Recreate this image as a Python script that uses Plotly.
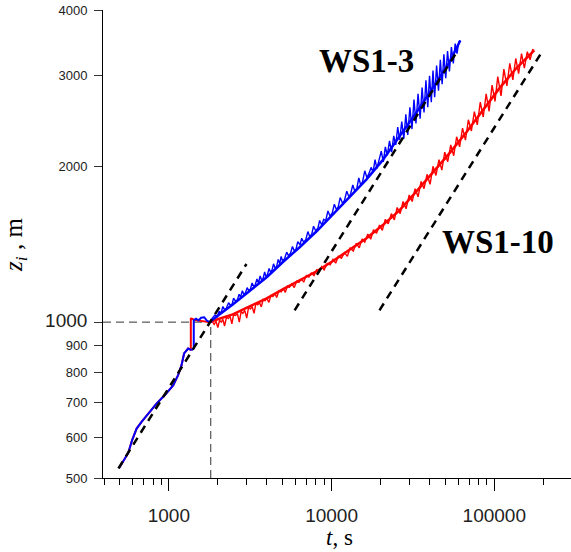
import math
import plotly.graph_objects as go

# ---------------- data ----------------
# early growth (shared) and jump
early_t = [494, 524, 563, 595, 634, 680, 747, 840, 945, 1063, 1140, 1197, 1241, 1314, 1378]
early_z = [522, 537, 559, 592, 623, 642, 666, 696, 723, 755, 790, 826, 870, 889, 883]

blue_jump_t = [1378, 1423, 1423, 1470, 1520, 1580, 1650, 1720, 1800]
blue_jump_z = [883, 890, 1008, 1015, 1008, 1020, 1022, 1005, 1000]

red_jump_t = [1314, 1365, 1365, 1380, 1450, 1600, 1800]
red_jump_z = [889, 886, 1015, 1016, 1009, 1005, 1000]

# WS1-3 smooth (fitted) curve
blue_fit_t = [1800, 1836, 2470, 3140, 3993, 5006, 6364, 8092, 10141, 12895, 16397,
              20556, 26138, 33233, 41655, 52962, 61850]
blue_fit_z = [1000, 1008, 1082, 1147, 1221, 1305, 1395, 1498, 1615, 1742, 1887,
              2053, 2285, 2542, 2828, 3175, 3500]

# WS1-3 noisy signal
blue_noise_t = [1800, 1850, 1920, 1980, 2040, 2090, 2150, 2210, 2260, 2330, 2390, 2450,
                2500, 2570, 2640, 2700, 2760, 2830, 2900, 2960, 3030, 3100, 3170,
                3250, 3330, 3400, 3480, 3560, 3640, 3720, 3800, 3880, 3950,
                4040, 4130, 4220, 4310, 4400, 4500, 4600, 4700, 4800, 4900, 5000,
                5150, 5300, 5450, 5600, 5750, 5900, 6050, 6200,
                6400, 6550, 6750, 6950, 7150, 7350, 7550, 7750, 8000,
                8250, 8450, 8700, 8950, 9200, 9500, 9800, 10100,
                10400, 10700, 11000, 11300, 11700, 12000, 12400, 12800,
                13100, 13500, 13900, 14300, 14700, 15100, 15500, 16000,
                16500, 17000, 17500, 18000, 18500, 19000, 19600, 20200,
                20800, 21400, 22000, 22700, 23400, 24100, 24800, 25500, 26200,
                27000, 27800, 28600, 29400, 30300, 31200, 32100, 33000,
                34000, 35000, 36000, 37000, 38000, 39000, 40000, 41000,
                42000, 43000, 44200, 45400, 46600, 47800, 49000, 50300, 51600, 53000,
                54500, 56000, 57500, 59000, 60500, 61850]
blue_noise_z = [1000, 1018, 1032, 1024, 1050, 1040, 1072, 1055, 1066, 1090, 1078, 1084,
                1112, 1098, 1104, 1132, 1118, 1150, 1128, 1140, 1166, 1150, 1158,
                1190, 1170, 1182, 1212, 1190, 1228, 1205, 1216, 1250, 1224,
                1236, 1270, 1248, 1262, 1296, 1270, 1282, 1322, 1296, 1340, 1312,
                1328, 1365, 1342, 1360, 1400, 1372, 1385, 1430,
                1410, 1452, 1426, 1444, 1496, 1462, 1478, 1532, 1500,
                1520, 1572, 1540, 1580, 1570, 1640, 1602, 1625,
                1690, 1650, 1672, 1740, 1695, 1718, 1790, 1745,
                1770, 1840, 1790, 1812, 1900, 1840, 1866, 1960,
                1900, 1940, 1990, 1950, 2060, 1980, 2050, 2140,
                2040, 2180, 2100, 2240, 2130, 2290, 2200, 2380, 2250,
                2440, 2260, 2520, 2300, 2600, 2360, 2690, 2420,
                2760, 2470, 2840, 2540, 2930, 2600, 2990, 2660,
                3060, 2720, 3130, 2800, 3210, 2880, 3290, 2960, 3340, 3050,
                3400, 3160, 3450, 3300, 3480, 3500]

# WS1-10 smooth (fitted) curve
red_fit_t = [1800, 1836, 2470, 3140, 3993, 5006, 6364, 8092, 10141, 12895, 16397, 20556,
             26138, 33233, 41655, 52962, 67330, 84420, 107330, 136460, 176020]
red_fit_z = [1000, 1004, 1035, 1073, 1112, 1157, 1205, 1254, 1311, 1377, 1452, 1538,
             1644, 1789, 1939, 2118, 2326, 2564, 2828, 3092, 3349]

# WS1-10 noisy signal
red_noise_t = [1800, 1850, 1900, 1950, 2000, 2050, 2100, 2150, 2200, 2260, 2320, 2380,
               2440, 2500, 2570, 2640, 2710, 2780, 2850, 2930, 3010, 3090, 3170, 3250,
               3340, 3430, 3520, 3610, 3700, 3800, 3900, 4000, 4120, 4240, 4360, 4480,
               4600, 4750, 4900, 5050, 5200, 5350, 5500, 5700, 5900, 6100, 6300, 6500,
               6750, 7000, 7250, 7500, 7800, 8100, 8400, 8700, 9000, 9400, 9800, 10200,
               10600, 11000, 11500, 12000, 12500, 13000, 13600, 14200, 14800, 15400,
               16000, 16700, 17400, 18100, 18900, 19700, 20500, 21400, 22300, 23300,
               24300, 25300, 26400, 27500, 28700, 30000, 31300, 32600, 34000, 35500,
               37000, 38600, 40300, 42000, 43800, 45700, 47600, 49600, 51700, 54000,
               56300, 58700, 61200, 63800, 66500, 69300, 72300, 75400, 78600, 82000,
               85500, 89100, 92900, 96900, 101000, 105000, 110000, 114500, 119500,
               124500, 130000, 135500, 141000, 147000, 153000, 159500, 166000, 172000,
               176020]
red_noise_z = [1000, 1002, 990, 1004, 976, 1008, 1000, 1012, 983, 1022, 1016, 1026,
               992, 1034, 1030, 1038, 1000, 1048, 1040, 1054, 1018, 1068, 1060, 1072,
               1040, 1088, 1080, 1090, 1070, 1106, 1100, 1112, 1092, 1126, 1120, 1136,
               1116, 1150, 1144, 1160, 1142, 1174, 1168, 1186, 1166, 1200, 1194, 1210,
               1196, 1230, 1222, 1244, 1230, 1262, 1252, 1280, 1262, 1298, 1290, 1322,
               1300, 1340, 1328, 1362, 1340, 1390, 1372, 1420, 1392, 1448,
               1428, 1480, 1446, 1508, 1484, 1540, 1504, 1580, 1548, 1620,
               1576, 1665, 1620, 1710, 1656, 1760, 1710, 1810, 1746, 1870,
               1810, 1930, 1846, 2000, 1920, 2060, 1966, 2130, 2040, 2200,
               2096, 2280, 2180, 2370, 2246, 2460, 2340, 2550, 2404, 2660,
               2490, 2760, 2554, 2870, 2670, 2980, 2736, 3080, 2860,
               3160, 2936, 3230, 3020, 3300, 3096, 3330, 3210, 3360,
               3349]

# t^(1/2) guide lines (end points)
guide_a_t = [490, 3000]
guide_a_z = [522, 1295]
guide_b_t = [5930, 59600]
guide_b_z = [1054, 3349]
guide_c_t = [19700, 198000]
guide_c_z = [1054, 3340]

# reference point
ref_t = 1810
ref_z = 1000

x_min, x_max = 394, 296000
y_min, y_max = 500, 4000

y_ticks = [500, 600, 700, 800, 900, 1000, 2000, 3000, 4000]
x_ticks = [1000, 10000, 100000]
x_minor = [400, 500, 600, 700, 800, 900, 2000, 3000, 4000, 5000, 6000, 7000, 8000, 9000,
           20000, 30000, 40000, 50000, 60000, 70000, 80000, 90000, 200000]

labels = ["WS1-3", "WS1-10"]
label_t = [16300, 106000]
label_z = [3200, 1430]

# ---------------- figure ----------------
BLUE = "#0000FF"
RED = "#FF0000"
fig = go.Figure()

def line(t, z, color, width, dash=None):
    fig.add_trace(go.Scatter(x=t, y=z, mode="lines", showlegend=False, hoverinfo="skip",
                             line=dict(color=color, width=width, dash=dash)))

# thin reference dashes
line([x_min, ref_t], [ref_z, ref_z], "#333333", 1, "8px,5px")
line([ref_t, ref_t], [y_min, ref_z], "#333333", 1, "8px,5px")

# red first (under blue)
line(early_t, early_z, RED, 2)
line(red_jump_t, red_jump_z, RED, 2)
line(red_noise_t, red_noise_z, RED, 1.4)
line(red_fit_t, red_fit_z, RED, 2.5)

line(early_t, early_z, BLUE, 2)
line(blue_jump_t, blue_jump_z, BLUE, 2)
line(blue_noise_t, blue_noise_z, BLUE, 1.4)
line(blue_fit_t, blue_fit_z, BLUE, 2.5)

# guide lines
for gt, gz in [(guide_a_t, guide_a_z), (guide_b_t, guide_b_z), (guide_c_t, guide_c_z)]:
    line(gt, gz, "black", 2.5, "8px,6px")

ytext = [str(v) if v != 1000 else '<span style="font-size:19px">1000</span>' for v in y_ticks]

fig.update_layout(
    width=571, height=552,
    margin=dict(l=103, r=0, t=10, b=74),
    paper_bgcolor="white", plot_bgcolor="white",
    font=dict(family="Liberation Sans, Arial, sans-serif", color="#222"),
    xaxis=dict(
        type="log", range=[math.log10(x_min), math.log10(x_max)],
        tickvals=x_ticks, ticktext=[str(v) for v in x_ticks],
        tickfont=dict(size=19, color="#222"),
        ticks="outside", ticklen=12, tickwidth=1, tickcolor="black",
        ticklabelstandoff=8,
        minor=dict(ticks="outside", ticklen=6, tickwidth=1, tickcolor="black",
                   tickvals=x_minor, showgrid=False),
        showline=True, linecolor="black", linewidth=1,
        showgrid=False, zeroline=False,
    ),
    yaxis=dict(
        type="log", range=[math.log10(y_min), math.log10(y_max) + 0.0008],
        tickvals=y_ticks, ticktext=ytext,
        tickfont=dict(size=13, color="#222"),
        ticks="outside", ticklen=8, tickwidth=1, tickcolor="#333",
        ticklabelstandoff=4, ticklabeloverflow="allow",
        showline=True, linecolor="black", linewidth=1,
        showgrid=False, zeroline=False,
    ),
)

for txt, lt, lz in zip(labels, label_t, label_z):
    fig.add_annotation(x=math.log10(lt), y=math.log10(lz), text="<b>%s</b>" % txt,
                       showarrow=False, xanchor="center", yanchor="middle",
                       font=dict(family="Liberation Serif, Times New Roman, serif", size=33,
                                 color="black"))

# axis titles
fig.add_annotation(xref="paper", yref="paper", x=0.506, y=-0.128, xanchor="center",
                   yanchor="middle", showarrow=False,
                   text="<i>t</i>, s",
                   font=dict(family="Liberation Serif, Times New Roman, serif", size=23,
                             color="black"))
fig.add_annotation(xref="paper", yref="paper", x=-0.186, y=0.498, xanchor="center",
                   yanchor="middle", showarrow=False, textangle=-90,
                   text="<i>z<sub>i</sub></i> , m",
                   font=dict(family="Liberation Serif, Times New Roman, serif", size=25,
                             color="black"))

fig.write_html("out.html", config={"displayModeBar": False},
               post_script="document.body.style.margin='0';document.body.style.overflow='hidden';")
